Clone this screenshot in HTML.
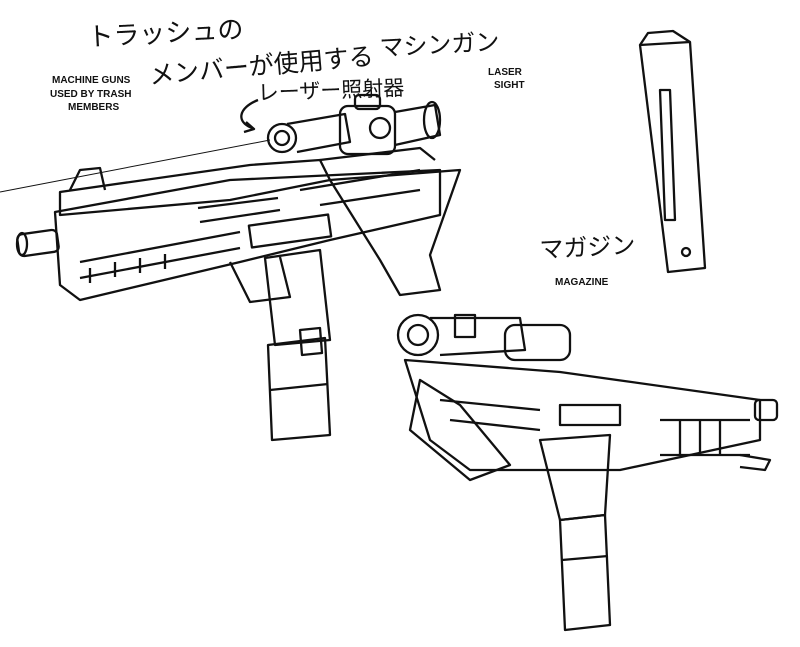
<!DOCTYPE html>
<html><head><meta charset="utf-8"><style>
html,body{margin:0;padding:0;background:#fff;width:800px;height:647px;overflow:hidden}
svg{display:block}
.h{font-family:"Liberation Sans","Noto Sans CJK JP",sans-serif;fill:#111}
.e{font-family:"Liberation Sans",sans-serif;font-weight:bold;fill:#111;font-size:10px}
g path,g rect,g ellipse,g circle,g line,g polyline,g polygon{fill:none;stroke:#111;stroke-width:2.3;stroke-linejoin:round}
</style></head><body>
<svg width="800" height="647" viewBox="0 0 800 647">
<text class="h" x="88" y="46" font-size="26" transform="rotate(-3 88 46)">トラッシュの</text>
<text class="h" x="150" y="84" font-size="25" transform="rotate(-5 150 84)">メンバーが使用する</text>
<text class="h" x="380" y="56" font-size="24" transform="rotate(-3 380 56)">マシンガン</text>
<text class="h" x="258" y="100" font-size="21" transform="rotate(-2 258 100)">レーザー照射器</text>
<text class="e" x="52" y="83">MACHINE GUNS</text>
<text class="e" x="50" y="97">USED BY TRASH</text>
<text class="e" x="68" y="110">MEMBERS</text>
<text class="e" x="488" y="75">LASER</text>
<text class="e" x="494" y="88">SIGHT</text>
<text class="h" x="540" y="258" font-size="24" transform="rotate(-3 540 258)">マガジン</text>
<text class="e" x="555" y="285">MAGAZINE</text>
<g>
<path d="M258 100 C238 108 236 122 252 128"/><path d="M246 122 l8 7 l-10 3"/>
<path d="M0 192 L270 140" style="stroke-width:1"/>
<rect x="18" y="232" width="40" height="22" rx="5" transform="rotate(-8 38 243)"/>
<ellipse cx="22" cy="244" rx="5" ry="11"/>
<polygon points="55,212 230,180 440,170 440,215 330,240 240,262 80,300 60,285"/>
<polygon points="60,192 250,165 320,160 330,180 230,200 60,215"/>
<path d="M70 190 l10 -20 l20 -2 l5 22"/>
<path d="M80 262 L240 232 M80 278 L240 248"/>
<path d="M90 268 v15 M115 262 v15 M140 258 v15 M165 254 v15"/>
<path d="M198 208 l80 -10 M200 222 l80 -12"/>
<rect x="250" y="220" width="80" height="22" transform="rotate(-8 290 231)"/>
<path d="M300 190 l120 -20 M320 205 l100 -15"/>
<path d="M330 180 L460 170 L430 255 L440 290 L400 295 L380 260 Z"/>
<path d="M230 262 l20 40 l40 -5 l-10 -40"/>
<polygon points="265,258 320,250 330,340 275,345"/>
<polygon points="268,345 325,338 330,435 272,440"/>
<path d="M270 390 l58 -6 M300 330 l20 -2 l2 25 l-20 2z"/>
<circle cx="282" cy="138" r="14"/><circle cx="282" cy="138" r="7"/>
<path d="M287 124 L345 114 L350 142 L297 152"/>
<rect x="340" y="106" width="55" height="48" rx="8"/>
<circle cx="380" cy="128" r="10"/>
<rect x="355" y="95" width="25" height="14" rx="4"/>
<path d="M395 112 L435 105 L440 135 L395 145"/>
<ellipse cx="432" cy="120" rx="8" ry="18"/>
<path d="M320 160 l100 -12 l15 12"/>
<polygon points="640,45 690,42 705,268 668,272"/>
<path d="M640 45 l8 -12 l25 -2 l17 11"/>
<path d="M660 90 l5 130 l10 0 l-5 -130z"/>
<circle cx="686" cy="252" r="4"/>
<circle cx="418" cy="335" r="20"/><circle cx="418" cy="335" r="10"/>
<path d="M430 318 L520 318 L525 350 L440 355"/>
<rect x="505" y="325" width="65" height="35" rx="10"/>
<rect x="455" y="315" width="20" height="22"/>
<polygon points="405,360 560,372 760,400 760,440 620,470 470,470 430,440"/>
<path d="M420 380 l-10 50 l60 50 l40 -15 l-50 -60z"/>
<path d="M440 400 l100 10 M450 420 l90 10"/>
<rect x="560" y="405" width="60" height="20"/>
<path d="M660 420 h90 M660 455 h90"/>
<path d="M680 420 v35 M700 420 v35 M720 420 v35"/>
<rect x="755" y="400" width="22" height="20" rx="4"/>
<path d="M740 455 l30 5 l-5 10 l-25 -3"/>
<polygon points="540,440 610,435 605,515 560,520 550,480"/>
<polygon points="560,520 605,515 610,625 565,630"/>
<path d="M562 560 l46 -4"/>
</g>
</svg>
</body></html>
